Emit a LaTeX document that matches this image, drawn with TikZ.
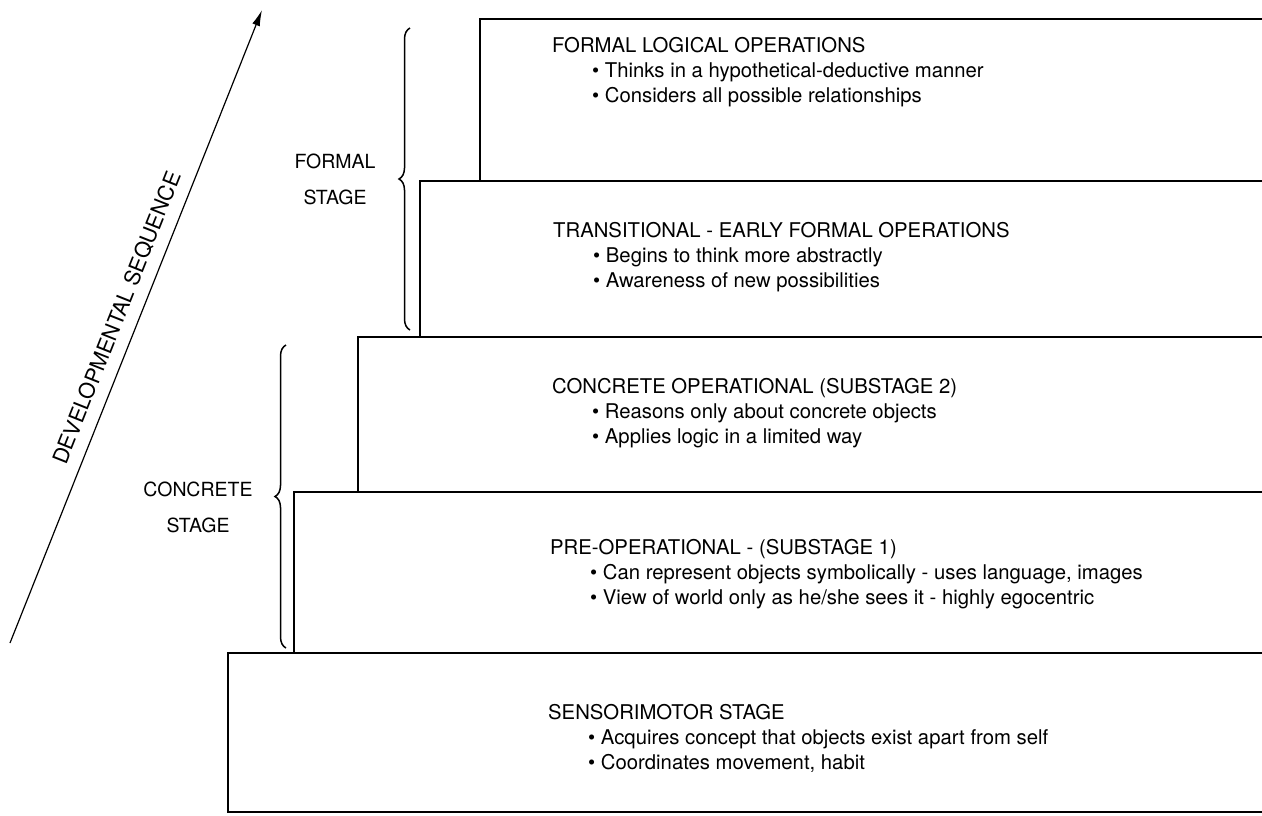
\documentclass[tikz,border=0pt]{standalone}
\usepackage{fontspec}
\setmainfont{TeX Gyre Heros}
\usetikzlibrary{arrows.meta,decorations.pathreplacing,positioning}

\tikzset{
  stair/.style={line width=1.6pt},
  stagetext/.style={anchor=west,inner sep=0pt,align=left,font=\fontsize{20.3}{25}\selectfont},
  sidelabel/.style={inner sep=0pt,align=center,font=\fontsize{19.5}{36}\selectfont},
  curly/.style={line width=1.5pt,decorate,decoration={brace,amplitude=11pt}},
}
\newcommand{\bul}{\hspace*{40pt}\textbullet\ }

\begin{document}
\begin{tikzpicture}[x=1pt,y=1pt,yscale=-1,xscale=1]
\useasboundingbox (0,0) rectangle (1262,815);

% the steps, open to the right
\draw[stair] (1262,19) -- (480,19) -- (480,181) -- (1262,181);
\draw[stair] (1262,181) -- (420,181) -- (420,337) -- (1262,337);
\draw[stair] (1262,337) -- (358,337) -- (358,492) -- (1262,492);
\draw[stair] (1262,492) -- (294,492) -- (294,653) -- (1262,653);
\draw[stair] (1262,653) -- (228,653) -- (228,812) -- (1262,812);

\node[stagetext] (formlog) at (552,72) {FORMAL LOGICAL OPERATIONS\\
  \bul Thinks in a hypothetical-deductive manner\\
  \bul Considers all possible relationships};
\node[stagetext] (transit) at (553,257) {TRANSITIONAL - EARLY FORMAL OPERATIONS\\
  \bul Begins to think more abstractly\\
  \bul Awareness of new possibilities};
\node[stagetext] (concop) at (552,413) {CONCRETE OPERATIONAL (SUBSTAGE 2)\\
  \bul Reasons only about concrete objects\\
  \bul Applies logic in a limited way};
\node[stagetext] (preop) at (550,574) {PRE-OPERATIONAL - (SUBSTAGE 1)\\
  \bul Can represent objects symbolically - uses language, images\\
  \bul View of world only as he/she sees it - highly egocentric};
\node[stagetext] (sensmot) at (548,738) {SENSORIMOTOR STAGE\\
  \bul Acquires concept that objects exist apart from self\\
  \bul Coordinates movement, habit};

% braces and stage names
\draw[curly] (410,330) -- (410,28);
\draw[curly] (286,648) -- (286,345);
\node[sidelabel] (formalstage) at (335,179) {FORMAL\\STAGE};
\node[sidelabel] (concretestage) at (198,507) {CONCRETE\\STAGE};

% sequence arrow
\coordinate (seqtail) at (10,643);
\coordinate (seqhead) at (262,10);
\draw[line width=1.2pt,-{Latex[length=16pt,width=8pt]}] (seqtail) -- (seqhead);
\node[rotate=68.3,inner sep=0pt,font=\fontsize{21.5}{25}\selectfont] (seqlabel) at (117,318) {DEVELOPMENTAL SEQUENCE};
\end{tikzpicture}
\end{document}
